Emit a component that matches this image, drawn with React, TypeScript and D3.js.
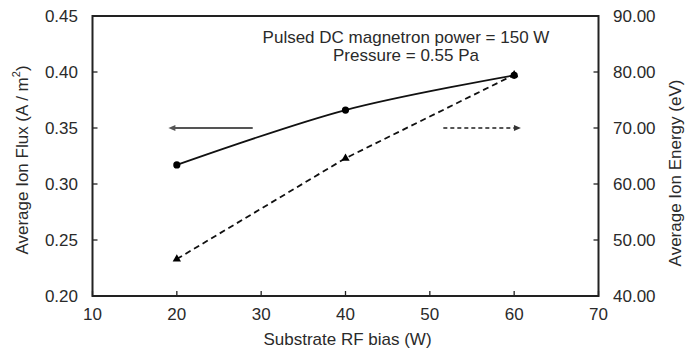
import React from "react";
import * as d3 from "d3";

const biasW = [20, 40, 60];
const ionFlux = [0.317, 0.366, 0.397];
const ionEnergy = [46.6, 64.6, 79.5];
const xTicks = [10, 20, 30, 40, 50, 60, 70];
const leftTicks = [0.2, 0.25, 0.3, 0.35, 0.4, 0.45];
const rightTicks = [40, 50, 60, 70, 80, 90];
const annotationLines = ["Pulsed DC magnetron power = 150 W", "Pressure = 0.55 Pa"];
const fluxArrow = { from: 29.0, to: 19.0, y: 0.35 };
const energyArrow = { from: 51.6, to: 60.8, y: 70 };

const W = 686;
const H = 351;
const M = { left: 92.5, right: 598.5, top: 16, bottom: 296 };
const FONT = "Liberation Sans, Arial, sans-serif";
const TXT = "#2a2a2a";
const FS = 17;

export default function App() {
  const x = d3.scaleLinear().domain([10, 70]).range([M.left, M.right]);
  const yL = d3.scaleLinear().domain([0.2, 0.45]).range([M.bottom, M.top]);
  const yR = d3.scaleLinear().domain([40, 90]).range([M.bottom, M.top]);

  const fluxPts = biasW.map((b, i) => [x(b), yL(ionFlux[i])] as [number, number]);
  const energyPts = biasW.map((b, i) => [x(b), yR(ionEnergy[i])] as [number, number]);

  const fluxLine = d3.line().curve(d3.curveCatmullRom.alpha(0.5))(fluxPts) || "";
  const energyLine = d3.line()(energyPts) || "";

  const tri = d3.symbol().type(d3.symbolTriangle).size(30)() || "";

  const arrowHead = (xTip: number, y: number, dir: number) => {
    const len = 7, hw = 3;
    return `M${xTip},${y}L${xTip - dir * len},${y - hw}L${xTip - dir * len},${y + hw}Z`;
  };

  const la = { x1: x(fluxArrow.from), x2: x(fluxArrow.to), y: yL(fluxArrow.y) };
  const ra = { x1: x(energyArrow.from), x2: x(energyArrow.to), y: yR(energyArrow.y) };
  const cx = (M.left + M.right) / 2;
  const cy = (M.top + M.bottom) / 2;

  return (
    <svg width={W} height={H} style={{ position: "absolute", left: 0, top: 0, background: "#fff" }} fontFamily={FONT}>
      <rect width={W} height={H} fill="#fff" />
      {xTicks.map((t) => (
        <line key={"xt" + t} x1={x(t)} x2={x(t)} y1={M.bottom} y2={M.bottom - 5} stroke="#222" strokeWidth={1.3} />
      ))}
      {leftTicks.map((t) => (
        <line key={"lt" + t} x1={M.left} x2={M.left + 5} y1={yL(t)} y2={yL(t)} stroke="#222" strokeWidth={1.3} />
      ))}
      {rightTicks.map((t) => (
        <line key={"rt" + t} x1={M.right} x2={M.right - 5} y1={yR(t)} y2={yR(t)} stroke="#222" strokeWidth={1.3} />
      ))}
      <rect x={M.left} y={M.top} width={M.right - M.left} height={M.bottom - M.top} fill="none" stroke="#222" strokeWidth={2} />

      {xTicks.map((t) => (
        <text key={"xl" + t} x={x(t)} y={314} fontSize={FS} fill={TXT} textAnchor="middle" dominantBaseline="central">
          {t}
        </text>
      ))}
      {leftTicks.map((t) => (
        <text key={"ll" + t} x={78} y={yL(t)} fontSize={FS} fill={TXT} textAnchor="end" dominantBaseline="central">
          {t.toFixed(2)}
        </text>
      ))}
      {rightTicks.map((t) => (
        <text key={"rl" + t} x={613} y={yR(t)} fontSize={FS} fill={TXT} textAnchor="start" dominantBaseline="central">
          {t.toFixed(2)}
        </text>
      ))}

      <text x={cx + 2} y={339} fontSize={FS} fill={TXT} textAnchor="middle" dominantBaseline="central">
        Substrate RF bias (W)
      </text>
      <text
        transform={`translate(22,${cy + 4}) rotate(-90)`}
        fontSize={FS}
        fill={TXT}
        textAnchor="middle"
        dominantBaseline="central"
      >
        Average Ion Flux (A / m<tspan dy={-6} fontSize={11}>2</tspan>
        <tspan dy={6}>)</tspan>
      </text>
      <text
        transform={`translate(675,${cy + 17}) rotate(-90)`}
        fontSize={FS}
        fill={TXT}
        textAnchor="middle"
        dominantBaseline="central"
      >
        Average Ion Energy (eV)
      </text>

      {annotationLines.map((s, i) => (
        <text key={s} x={406} y={43 + i * 18} fontSize={FS} fill={TXT} textAnchor="middle">
          {s}
        </text>
      ))}

      <path d={energyLine} fill="none" stroke="#111" strokeWidth={1.8} strokeDasharray="6,4" />
      <path d={fluxLine} fill="none" stroke="#111" strokeWidth={1.8} />
      {fluxPts.map(([px, py], i) => (
        <circle key={"fc" + i} cx={px} cy={py} r={3.6} fill="#000" />
      ))}
      {energyPts.map(([px, py], i) => (
        <path key={"et" + i} d={tri} transform={`translate(${px},${py})`} fill="#000" />
      ))}

      <line x1={la.x1} x2={la.x2 + 5} y1={la.y} y2={la.y} stroke="#555" strokeWidth={1.8} />
      <path d={arrowHead(la.x2, la.y, -1)} fill="#555" />
      <line x1={ra.x1} x2={ra.x2 - 5} y1={ra.y} y2={ra.y} stroke="#555" strokeWidth={1.8} strokeDasharray="4,3" />
      <path d={arrowHead(ra.x2, ra.y, 1)} fill="#333" />
    </svg>
  );
}
